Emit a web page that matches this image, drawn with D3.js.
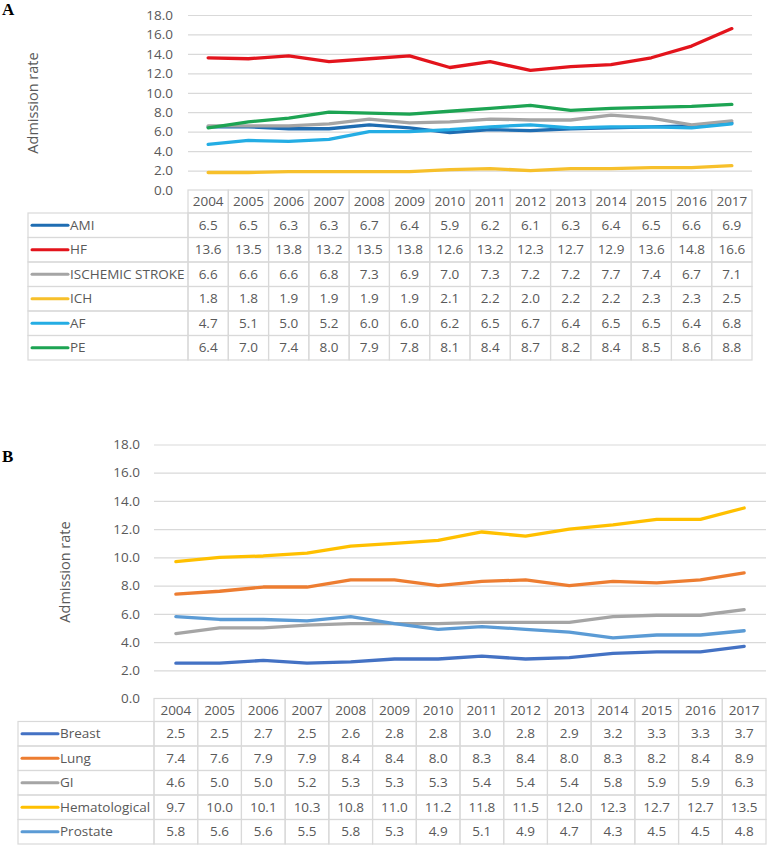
<!DOCTYPE html>
<html>
<head>
<meta charset="utf-8">
<script src="https://cdn.jsdelivr.net/npm/d3@7"></script>
<style>
body{margin:0;background:#fff;}
svg{display:block;}
text{font-family:"Open Sans",sans-serif;fill:#595959;}
</style>
</head>
<body>
<div id="chart"></div>
<script>
const years=[2004,2005,2006,2007,2008,2009,2010,2011,2012,2013,2014,2015,2016,2017];
const yTicks=[0,2,4,6,8,10,12,14,16,18];

// panel A
const namesA=["AMI","HF","ISCHEMIC STROKE","ICH","AF","PE"];
const colorsA=["#1f6db2","#e3141c","#a5a5a5","#f7c02b","#24ade4","#1da453"];
const ami=[6.5,6.5,6.3,6.3,6.7,6.4,5.9,6.2,6.1,6.3,6.4,6.5,6.6,6.9];
const hf=[13.6,13.5,13.8,13.2,13.5,13.8,12.6,13.2,12.3,12.7,12.9,13.6,14.8,16.6];
const ischemic=[6.6,6.6,6.6,6.8,7.3,6.9,7.0,7.3,7.2,7.2,7.7,7.4,6.7,7.1];
const ich=[1.8,1.8,1.9,1.9,1.9,1.9,2.1,2.2,2.0,2.2,2.2,2.3,2.3,2.5];
const af=[4.7,5.1,5.0,5.2,6.0,6.0,6.2,6.5,6.7,6.4,6.5,6.5,6.4,6.8];
const pe=[6.4,7.0,7.4,8.0,7.9,7.8,8.1,8.4,8.7,8.2,8.4,8.5,8.6,8.8];

// panel B
const namesB=["Breast","Lung","GI","Hematological","Prostate"];
const colorsB=["#4472c4","#ed7d31","#a5a5a5","#ffc000","#5b9bd5"];
const breast=[2.5,2.5,2.7,2.5,2.6,2.8,2.8,3.0,2.8,2.9,3.2,3.3,3.3,3.7];
const lung=[7.4,7.6,7.9,7.9,8.4,8.4,8.0,8.3,8.4,8.0,8.3,8.2,8.4,8.9];
const gi=[4.6,5.0,5.0,5.2,5.3,5.3,5.3,5.4,5.4,5.4,5.8,5.9,5.9,6.3];
const hemat=[9.7,10.0,10.1,10.3,10.8,11.0,11.2,11.8,11.5,12.0,12.3,12.7,12.7,13.5];
const prostate=[5.8,5.6,5.6,5.5,5.8,5.3,4.9,5.1,4.9,4.7,4.3,4.5,4.5,4.8];

const svg=d3.select("#chart").append("svg").attr("width",767).attr("height",845);

function drawPanel(p){
  const g=svg.append("g");
  const x=d3.scaleBand().domain(years).range([p.x0,p.x1]);
  const y=d3.scaleLinear().domain([0,18]).range([p.yBottom,p.yTop]);

  g.append("text")
    .attr("x",2).attr("y",p.letterY)
    .style("font-family","'Liberation Serif',serif")
    .style("font-weight","bold").style("font-size","17px")
    .style("fill","#000")
    .text(p.letter);

  // gridlines (0 is the table top border)
  g.selectAll(".grid").data(yTicks.filter(d=>d>0)).enter().append("line")
    .attr("x1",p.x0).attr("x2",p.x1)
    .attr("y1",d=>y(d)+0.5).attr("y2",d=>y(d)+0.5)
    .attr("stroke","#d9d9d9").attr("stroke-width",1.2);

  g.selectAll(".ytick").data(yTicks).enter().append("text")
    .attr("x",p.tickX).attr("y",d=>y(d))
    .attr("dy","0.35em").attr("text-anchor","end")
    .style("font-size","13.5px")
    .text(d=>d.toFixed(1));

  g.append("text")
    .attr("transform",`translate(${p.titleX},${p.titleY}) rotate(-90)`)
    .attr("text-anchor","middle").attr("dy","0.35em")
    .style("font-size","14.5px")
    .text("Admission rate");

  const line=d3.line()
    .x((d,i)=>x(years[i])+x.bandwidth()/2)
    .y(d=>y(d));

  g.selectAll(".series").data(p.series).enter().append("path")
    .attr("d",d=>line(d))
    .attr("fill","none")
    .attr("stroke",(d,i)=>p.colors[i])
    .attr("stroke-width",3.3)
    .attr("stroke-linejoin","round")
    .attr("stroke-linecap","round");

  // table
  const t=g.append("g");
  const hTop=p.yBottom, hH=23, rH=24.5;
  const rowY=i=>hTop+hH+i*rH;
  const border="#d9d9d9";

  years.forEach(yr=>{
    t.append("rect")
      .attr("x",x(yr)).attr("y",hTop)
      .attr("width",x.bandwidth()).attr("height",hH)
      .attr("fill","none").attr("stroke",border).attr("stroke-width",1.2);
    t.append("text")
      .attr("x",x(yr)+x.bandwidth()/2).attr("y",hTop+hH/2)
      .attr("dy","0.35em").attr("text-anchor","middle")
      .style("font-size","13.5px")
      .text(yr);
  });

  p.names.forEach((name,i)=>{
    t.append("rect")
      .attr("x",p.labelX).attr("y",rowY(i))
      .attr("width",p.x0-p.labelX).attr("height",rH)
      .attr("fill","none").attr("stroke",border).attr("stroke-width",1.2);
    t.append("line")
      .attr("x1",p.labelX+4).attr("x2",p.labelX+40)
      .attr("y1",rowY(i)+rH/2).attr("y2",rowY(i)+rH/2)
      .attr("stroke",p.colors[i]).attr("stroke-width",3)
      .attr("stroke-linecap","round");
    t.append("text")
      .attr("x",p.labelX+42).attr("y",rowY(i)+rH/2)
      .attr("dy","0.35em")
      .style("font-size","13.5px")
      .text(name);
    p.series[i].forEach((v,j)=>{
      t.append("rect")
        .attr("x",x(years[j])).attr("y",rowY(i))
        .attr("width",x.bandwidth()).attr("height",rH)
        .attr("fill","none").attr("stroke",border).attr("stroke-width",1.2);
      t.append("text")
        .attr("x",x(years[j])+x.bandwidth()/2).attr("y",rowY(i)+rH/2)
        .attr("dy","0.35em").attr("text-anchor","middle")
        .style("font-size","13.5px")
        .text(v.toFixed(1));
    });
  });
}

drawPanel({
  letter:"A",letterY:15,
  x0:188,x1:752,yTop:15,yBottom:190,
  tickX:173,titleX:33,titleY:103,labelX:28,
  names:namesA,colors:colorsA,
  series:[ami,hf,ischemic,ich,af,pe]
});

drawPanel({
  letter:"B",letterY:462,
  x0:154,x1:766,yTop:444.5,yBottom:698.5,
  tickX:140,titleX:65,titleY:572,labelX:18,
  names:namesB,colors:colorsB,
  series:[breast,lung,gi,hemat,prostate]
});
</script>
</body>
</html>
